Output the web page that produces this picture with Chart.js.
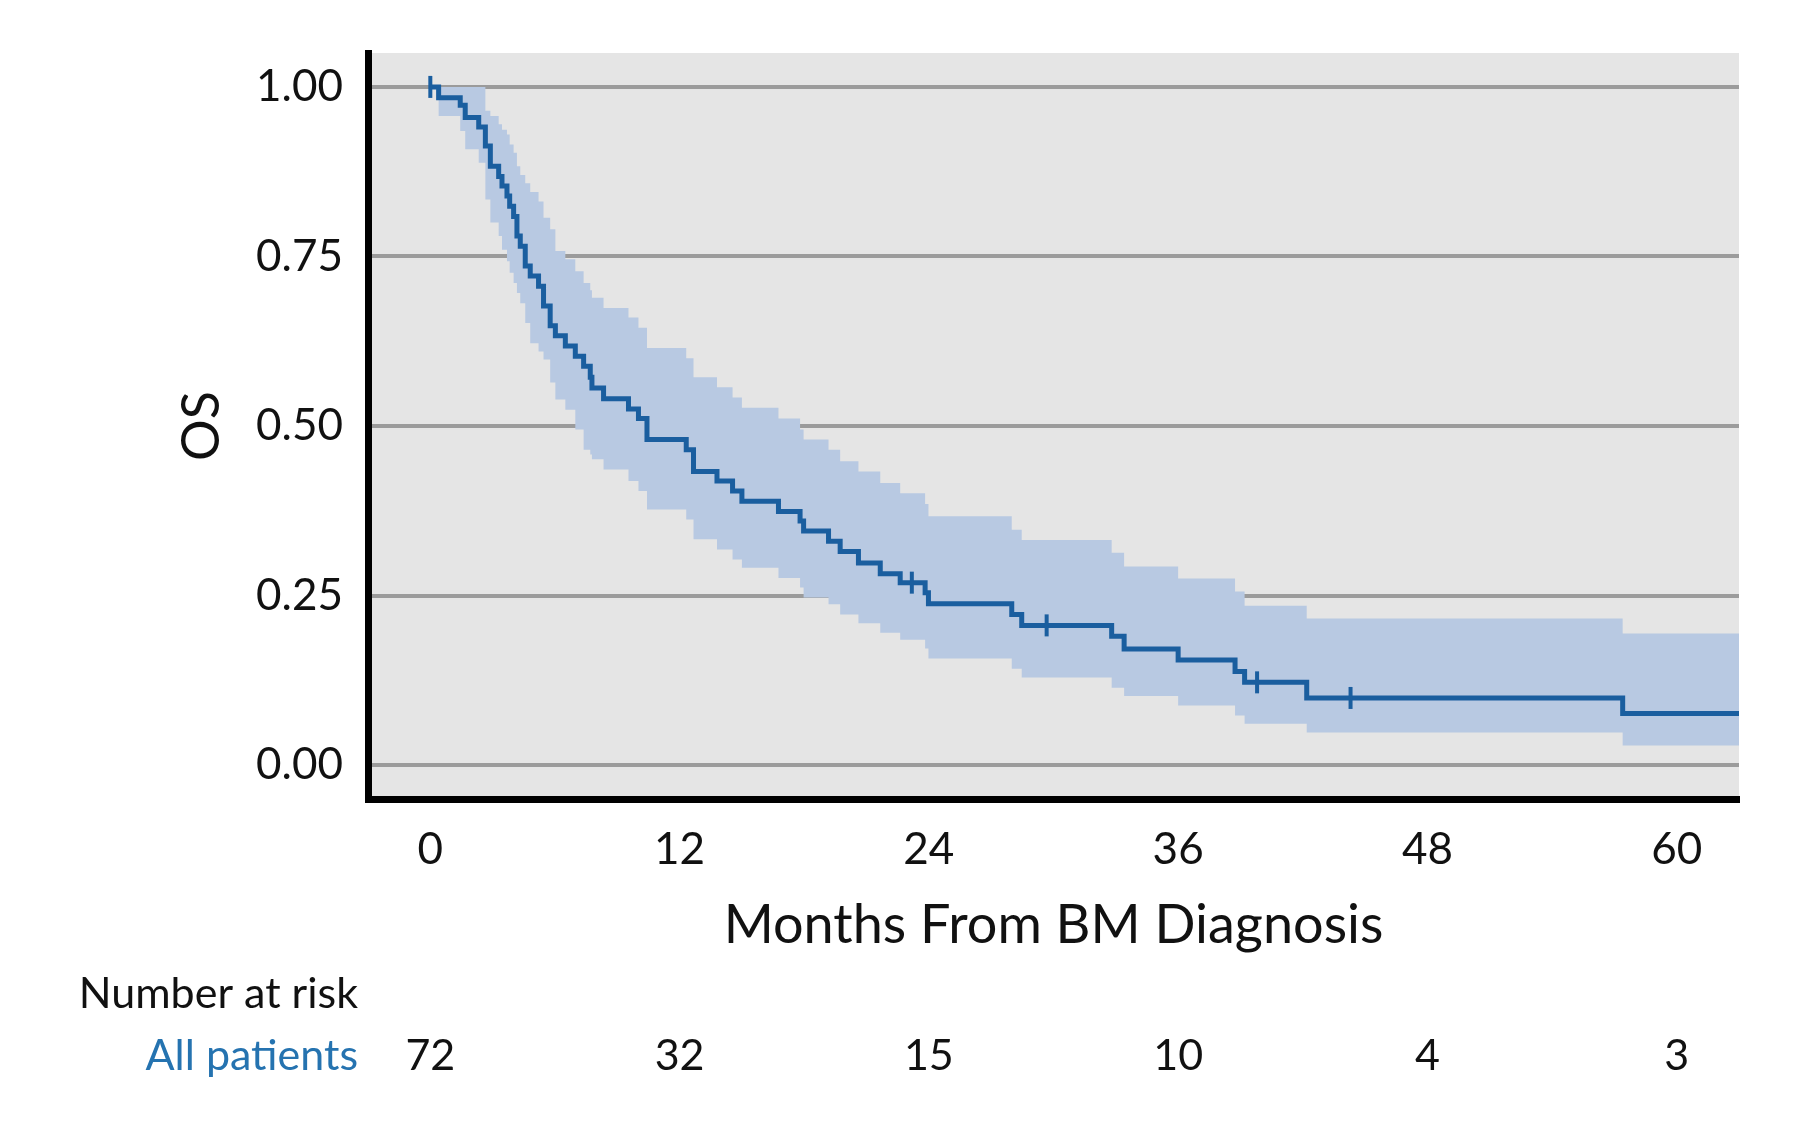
<!DOCTYPE html>
<html>
<head>
<meta charset="utf-8">
<script src="https://cdn.jsdelivr.net/npm/chart.js@4.4.1/dist/chart.umd.min.js"></script>
<style>
  html, body { margin: 0; padding: 0; background: #fff; }
  #wrap { width: 1811px; height: 1127px; }
</style>
</head>
<body>
<div id="wrap"><canvas id="kmChart" width="1811" height="1127"></canvas></div>
<script>
// Kaplan-Meier estimate (months, OS)
const months = [0, 0.40, 1.44, 1.68, 2.33, 2.65, 2.89, 3.29, 3.45, 3.69, 3.82, 4.01, 4.17, 4.33, 4.57,
  4.81, 5.21, 5.45, 5.77, 6.02, 6.50, 6.98, 7.38, 7.70, 7.78, 8.34, 9.54, 10.02, 10.43, 12.32, 12.67,
  13.80, 14.55, 15.00, 16.76, 17.80, 17.97, 19.17, 19.73, 20.61, 21.66, 22.62, 23.82, 23.98, 27.99,
  28.47, 32.80, 33.40, 36.00, 38.74, 39.20, 42.19, 57.40, 63.00];
const survival = [1.000, 0.984, 0.973, 0.955, 0.941, 0.913, 0.883, 0.868, 0.854, 0.839, 0.824, 0.809,
  0.780, 0.765, 0.736, 0.721, 0.706, 0.677, 0.648, 0.633, 0.618, 0.603, 0.588, 0.572, 0.556, 0.540,
  0.525, 0.511, 0.480, 0.465, 0.433, 0.419, 0.404, 0.389, 0.374, 0.360, 0.345, 0.330, 0.315, 0.298,
  0.282, 0.269, 0.254, 0.238, 0.222, 0.206, 0.190, 0.171, 0.155, 0.138, 0.122, 0.099, 0.076, 0.076];
const upperCI = [1.000, 1.000, 1.000, 1.000, 1.000, 0.965, 0.957, 0.945, 0.937, 0.930, 0.915, 0.903,
  0.883, 0.870, 0.858, 0.845, 0.831, 0.807, 0.790, 0.758, 0.746, 0.728, 0.711, 0.700, 0.689, 0.674,
  0.660, 0.645, 0.615, 0.600, 0.572, 0.557, 0.542, 0.527, 0.511, 0.495, 0.480, 0.465, 0.448, 0.433,
  0.416, 0.401, 0.385, 0.367, 0.347, 0.332, 0.313, 0.293, 0.275, 0.256, 0.235, 0.216, 0.194, 0.194];
const lowerCI = [1.000, 0.957, 0.935, 0.908, 0.888, 0.834, 0.800, 0.780, 0.760, 0.743, 0.726, 0.711,
  0.696, 0.681, 0.652, 0.622, 0.610, 0.598, 0.564, 0.539, 0.524, 0.495, 0.465, 0.458, 0.451, 0.436,
  0.419, 0.404, 0.377, 0.362, 0.333, 0.318, 0.303, 0.291, 0.276, 0.262, 0.247, 0.237, 0.222, 0.209,
  0.195, 0.185, 0.172, 0.157, 0.142, 0.129, 0.114, 0.102, 0.088, 0.073, 0.061, 0.048, 0.029, 0.029];

// censored observations (+ marks)
const censorMonths = [0, 23.18, 29.67, 39.80, 44.30];
const censorSurvival = [1.000, 0.269, 0.206, 0.122, 0.099];

const xTickValues = [0, 12, 24, 36, 48, 60];
const yTickLabels = ['0.00', '0.25', '0.50', '0.75', '1.00'];

const riskMonths = [0, 12, 24, 36, 48, 60];
const riskCounts = [72, 32, 15, 10, 4, 3];

const FONT = 'Lato, "Noto Sans", sans-serif';
const LINE_BLUE = '#1a5e9f';
const BAND_BLUE = '#b8c9e2';

const toPoints = (xs, ys) => xs.map((x, i) => ({ x, y: ys[i] }));

const panelBackground = {
  id: 'panelBackground',
  beforeDraw(chart) {
    const { ctx, chartArea } = chart;
    ctx.save();
    ctx.fillStyle = '#e5e5e5';
    ctx.fillRect(chartArea.left, chartArea.top, chartArea.right - chartArea.left, chartArea.bottom - chartArea.top);
    ctx.restore();
  },
};

const riskTable = {
  id: 'riskTable',
  afterDraw(chart) {
    const { ctx } = chart;
    const xScale = chart.scales.x;
    const labelRight = 358;
    ctx.save();
    ctx.font = `43px ${FONT}`;
    ctx.textBaseline = 'middle';
    ctx.textAlign = 'right';
    ctx.fillStyle = '#111';
    ctx.fillText('Number at risk', labelRight, 994);
    ctx.fillStyle = '#2573b0';
    ctx.fillText('All patients', labelRight, 1056);
    ctx.fillStyle = '#111';
    ctx.textAlign = 'center';
    riskMonths.forEach((m, i) => {
      ctx.fillText(String(riskCounts[i]), xScale.getPixelForValue(m), 1056);
    });
    ctx.restore();
  },
};

const ctx = document.getElementById('kmChart').getContext('2d');

new Chart(ctx, {
  type: 'line',
  data: {
    datasets: [
      {
        data: toPoints(censorMonths, censorSurvival),
        showLine: false,
        pointStyle: 'line',
        rotation: 90,
        radius: 11,
        borderColor: LINE_BLUE,
        borderWidth: 4,
        order: 0,
      },
      {
        data: toPoints(months, survival),
        stepped: true,
        borderColor: LINE_BLUE,
        borderWidth: 5,
        pointRadius: 0,
        fill: false,
        order: 1,
      },
      {
        data: toPoints(months, upperCI),
        stepped: true,
        borderWidth: 0,
        pointRadius: 0,
        backgroundColor: BAND_BLUE,
        fill: '+1',
        order: 2,
      },
      {
        data: toPoints(months, lowerCI),
        stepped: true,
        borderWidth: 0,
        pointRadius: 0,
        fill: false,
        order: 3,
      },
    ],
  },
  options: {
    responsive: false,
    maintainAspectRatio: false,
    animation: false,
    layout: {
      padding: { left: 0, right: 72, top: 53, bottom: 167 },
    },
    plugins: {
      legend: { display: false },
      tooltip: { enabled: false },
    },
    scales: {
      x: {
        type: 'linear',
        min: -3,
        max: 63,
        afterFit(scale) {
          scale.height = 161;
        },
        afterBuildTicks(scale) {
          scale.ticks = xTickValues.map((value) => ({ value }));
        },
        ticks: {
          padding: 24,
          color: '#111',
          font: { family: FONT, size: 44 },
        },
        grid: { display: false, drawTicks: false },
        border: { display: true, color: '#000', width: 7 },
        title: {
          display: true,
          text: 'Months From BM Diagnosis',
          color: '#111',
          font: { family: FONT, size: 54 },
          padding: { top: 0, bottom: 2 },
        },
      },
      y: {
        min: -0.05,
        max: 1.05,
        afterFit(scale) {
          scale.width = 368;
        },
        afterBuildTicks(scale) {
          scale.ticks = yTickLabels.map((label) => ({ value: Number(label) }));
        },
        ticks: {
          padding: 25,
          color: '#111',
          font: { family: FONT, size: 44 },
          callback: (value) => value.toFixed(2),
        },
        grid: {
          color: '#9b9b9b',
          lineWidth: 4,
          drawTicks: false,
        },
        border: { display: true, color: '#000', width: 7 },
        title: {
          display: true,
          text: 'OS',
          color: '#111',
          font: { family: FONT, size: 52 },
          padding: { top: 171, bottom: 0 },
        },
      },
    },
  },
  plugins: [panelBackground, riskTable],
});
</script>
</body>
</html>
